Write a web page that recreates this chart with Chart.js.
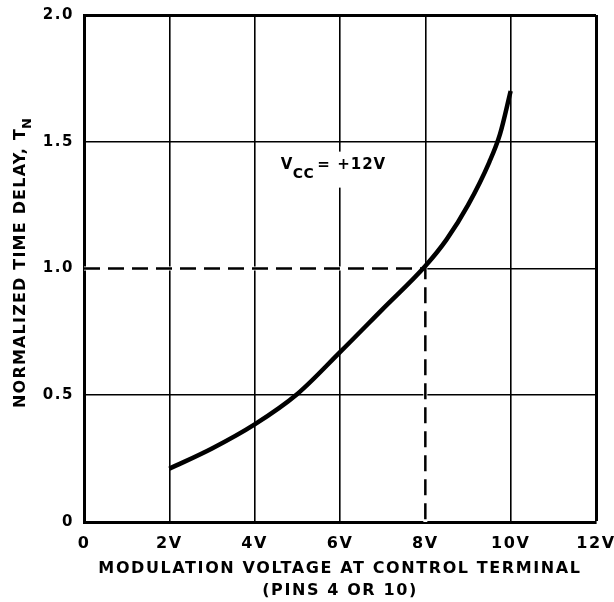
<!DOCTYPE html>
<html>
<head>
<meta charset="utf-8">
<script src="https://cdn.jsdelivr.net/npm/chart.js@4.4.1/dist/chart.umd.min.js"></script>
<style>
  html, body { margin: 0; padding: 0; background: #fff; }
  #wrap { width: 614px; height: 602px; }
</style>
</head>
<body>
<div id="wrap"><canvas id="delay-chart"></canvas></div>
<script>
// curve
const voltage = [2, 3, 4, 5, 6, 7, 8, 8.5, 9, 9.5, 9.75, 10];
const delay = [0.21, 0.29, 0.385, 0.505, 0.67, 0.84, 1.01, 1.115, 1.25, 1.42, 1.53, 1.70];

// dashed reference: T_N = 1.0 at 8V
const refVoltage = [0, 8, 8];
const refDelay = [1.0, 1.0, 0];

const xTicks = [0, 2, 4, 6, 8, 10, 12];
const xTickLabels = ["0", "2V", "4V", "6V", "8V", "10V", "12V"];
const yTicks = [0, 0.5, 1.0, 1.5, 2.0];
const yTickLabels = ["0", "0.5", "1.0", "1.5", "2.0"];

const FONT = "'DejaVu Sans', sans-serif";
const INK = "#000";

function points(xs, ys) {
    return xs.map((x, i) => ({ x, y: ys[i] }));
}

const spacing = {
    id: "spacing",
    beforeDraw(chart) {
        chart.ctx.letterSpacing = "1.6px";
    }
};

const labels = {
    id: "labels",
    beforeDatasetsDraw(chart) {
        const { ctx, scales } = chart;
        const x0 = scales.x.getPixelForValue(4.61);
        const y0 = scales.y.getPixelForValue(1.394);
        ctx.save();
        ctx.fillStyle = "#fff";
        ctx.fillRect(x0 - 3, y0 - 17, 114, 36);
        ctx.fillStyle = INK;
        ctx.textBaseline = "alphabetic";
        ctx.textAlign = "left";
        ctx.letterSpacing = "0.5px";
        ctx.font = "bold 15px " + FONT;
        ctx.fillText("V", x0, y0);
        let w = ctx.measureText("V").width;
        ctx.font = "bold 14px " + FONT;
        ctx.fillText("CC", x0 + w, y0 + 9);
        w += ctx.measureText("CC").width + 3;
        ctx.font = "bold 15px " + FONT;
        ctx.letterSpacing = "1px";
        ctx.fillText("= +12V", x0 + w, y0);
        ctx.restore();
    },
    afterDraw(chart) {
        const { ctx } = chart;
        ctx.save();
        ctx.translate(25, 408);
        ctx.rotate(-Math.PI / 2);
        ctx.fillStyle = INK;
        ctx.textBaseline = "alphabetic";
        ctx.textAlign = "left";
        ctx.letterSpacing = "1.2px";
        ctx.font = "bold 16px " + FONT;
        const main = "NORMALIZED TIME DELAY, T";
        ctx.fillText(main, 0, 0);
        const w = ctx.measureText(main).width;
        ctx.font = "bold 13px " + FONT;
        ctx.fillText("N", w - 1, 6);
        ctx.restore();
    }
};

new Chart(document.getElementById("delay-chart"), {
    type: "scatter",
    data: {
        datasets: [
            {
                label: "T_N",
                data: points(voltage, delay),
                showLine: true,
                borderColor: INK,
                borderWidth: 4.5,
                cubicInterpolationMode: "monotone",
                pointRadius: 0,
                borderCapStyle: "butt"
            },
            {
                label: "ref",
                data: points(refVoltage, refDelay),
                showLine: true,
                borderColor: INK,
                borderWidth: 2.5,
                borderDash: [16, 8],
                pointRadius: 0,
                tension: 0
            },
            {
                label: "ref-mask",
                data: points(refVoltage, refDelay),
                showLine: true,
                borderColor: "#fff",
                borderWidth: 4,
                pointRadius: 0,
                tension: 0
            }
        ]
    },
    options: {
        responsive: true,
        maintainAspectRatio: false,
        animation: false,
        layout: { padding: { left: 0, top: 15, right: 18, bottom: 0 } },
        plugins: {
            legend: { display: false },
            tooltip: { enabled: false }
        },
        scales: {
            x: {
                type: "linear",
                min: 0,
                max: 12,
                afterBuildTicks: scale => {
                    scale.ticks = xTicks.map(v => ({ value: v }));
                },
                afterFit: scale => {
                    scale.height = 80;
                    scale.paddingLeft = 0;
                    scale.paddingRight = 0;
                },
                ticks: {
                    color: INK,
                    padding: 12,
                    maxRotation: 0,
                    autoSkip: false,
                    font: { family: FONT, size: 16, weight: "bold" },
                    callback: (v) => xTickLabels[xTicks.indexOf(v)]
                },
                grid: {
                    color: INK,
                    drawTicks: false,
                    lineWidth: ctx => (ctx.tick && ctx.tick.value === 12 ? 3 : 1.6)
                },
                border: { display: true, color: INK, width: 3 },
                title: {
                    display: true,
                    text: ["MODULATION VOLTAGE AT CONTROL TERMINAL", "(PINS 4 OR 10)"],
                    color: INK,
                    padding: { top: 0, bottom: 0 },
                    font: { family: FONT, size: 16, weight: "bold", lineHeight: "22px" }
                }
            },
            y: {
                type: "linear",
                min: 0,
                max: 2,
                afterBuildTicks: scale => {
                    scale.ticks = yTicks.map(v => ({ value: v }));
                },
                afterFit: scale => {
                    scale.width = 84;
                    scale.paddingTop = 0;
                    scale.paddingBottom = 0;
                },
                ticks: {
                    color: INK,
                    padding: 10,
                    font: { family: FONT, size: 15, weight: "bold" },
                    callback: (v) => yTickLabels[yTicks.indexOf(v)]
                },
                grid: {
                    color: INK,
                    drawTicks: false,
                    lineWidth: ctx => (ctx.tick && ctx.tick.value === 2 ? 3 : 1.6)
                },
                border: { display: true, color: INK, width: 3 }
            }
        }
    },
    plugins: [spacing, labels]
});
</script>
</body>
</html>
